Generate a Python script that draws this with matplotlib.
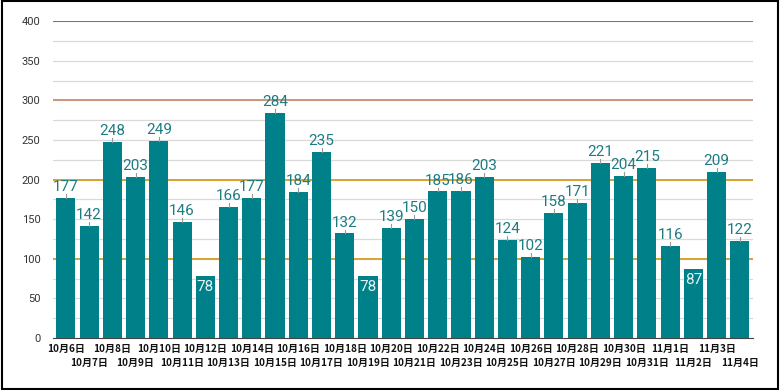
import numpy as np
import matplotlib
matplotlib.use("Agg")
from matplotlib import pyplot as plt

plt.rcParams["font.family"] = ["Roboto", "Noto Sans CJK SC", "DejaVu Sans"]

dates = ["10月6日", "10月7日", "10月8日", "10月9日", "10月10日", "10月11日",
         "10月12日", "10月13日", "10月14日", "10月15日", "10月16日", "10月17日",
         "10月18日", "10月19日", "10月20日", "10月21日", "10月22日", "10月23日",
         "10月24日", "10月25日", "10月26日", "10月27日", "10月28日", "10月29日",
         "10月30日", "10月31日", "11月1日", "11月2日", "11月3日", "11月4日"]
counts = [177, 142, 248, 203, 249, 146, 78, 166, 177, 284, 184, 235, 132, 78,
          139, 150, 185, 186, 203, 124, 102, 158, 171, 221, 204, 215, 116, 87,
          209, 122]
ref_levels = [100, 200, 300, 400]
ref_colors = ["#d8a430", "#d8a430", "#c9967a", "#8c6c68"]

teal = "#00818a"

fig = plt.figure(figsize=(7.8, 3.9), dpi=100)
ax = fig.add_axes([0.068, 0.133, 0.897, 0.813])

x = np.arange(len(counts))
ax.bar(x, counts, width=0.82, color=teal, zorder=3)

ax.set_ylim(0, 400)
ax.set_xlim(-0.55, len(counts) - 0.45)
ax.set_yticks(np.arange(0, 401, 50))
ax.set_yticks(np.arange(25, 400, 50), minor=True)
ax.grid(axis="y", which="both", color="#dadada", linewidth=0.9, zorder=0)
for lvl, col in zip(ref_levels, ref_colors):
    ax.axhline(lvl, color=col, linewidth=1.4, zorder=2)

for s in ["top", "right", "left"]:
    ax.spines[s].set_visible(False)
ax.spines["bottom"].set_color("#444444")
ax.spines["bottom"].set_zorder(4)
ax.tick_params(axis="y", which="both", length=0, labelsize=8, labelcolor="#333333", pad=9)
ax.tick_params(axis="x", length=0)
ax.set_xticks(x)
ax.set_xticklabels([])

# two-row date labels
for i, d in enumerate(dates):
    yoff = -4 if i % 2 == 0 else -14
    ax.annotate(d, (i, 0), xytext=(0, yoff), textcoords="offset points",
                ha="center", va="top", fontsize=7.2, color="#111111",
                family=["Noto Sans CJK SC", "DejaVu Sans"], fontweight="bold")

# value labels with small leader ticks
for i, v in enumerate(counts):
    if v < 90:
        ax.annotate(str(v), (i, v), xytext=(0, -3), textcoords="offset points",
                    ha="center", va="top", fontsize=11, color="#e4f4f4", zorder=5)
    else:
        ax.plot([i, i], [v, v + 5], color="#999999", linewidth=0.8, zorder=4)
        ax.annotate(str(v), (i, v + 5), xytext=(0, 0), textcoords="offset points",
                    ha="center", va="bottom", fontsize=11, color="#1d7c82", zorder=5)

fig.patches.append(plt.Rectangle((0.002, 0.003), 0.996, 0.994, transform=fig.transFigure,
                                 fill=False, edgecolor="black", linewidth=1.5))

fig.savefig("out.png", dpi=100)
